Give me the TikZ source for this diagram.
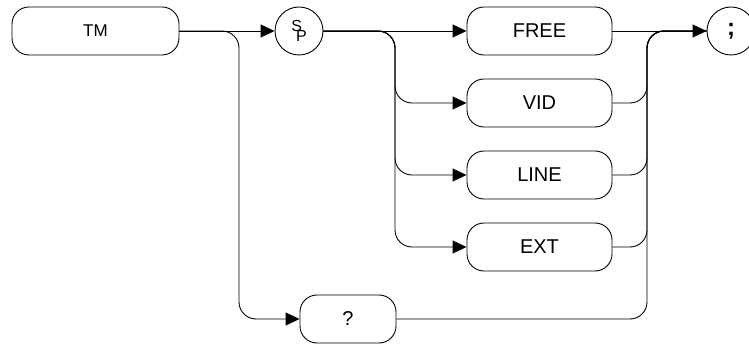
\documentclass[tikz,border=0pt]{standalone}
\usepackage{fontspec}
\setmainfont{Liberation Sans}
\usepackage{tikz}
\usetikzlibrary{arrows.meta, positioning, calc}
\tikzset{
	keyword/.style={draw, rounded corners=17pt, minimum height=48pt, inner sep=0pt,
		line width=0.9pt, font=\fontsize{20}{22}\selectfont},
	token/.style={draw, circle, minimum size=48pt, inner sep=0pt, line width=0.9pt},
	link/.style={draw, line width=0.9pt, rounded corners=17pt},
	arrowlink/.style={link, -{Triangle[length=14pt, width=13pt]}}
}

\begin{document}
\begin{tikzpicture}[x=1pt, y=-1pt]

% frame of the picture
\useasboundingbox (0,0) rectangle (749,344);

% --- LEFT SIDE: command and separator ---
\node[keyword, minimum width=167pt, font=\fontsize{17}{20}\selectfont] (tm) at (95.5,31) {TM};
\node[token] (sp) at (299,31) {\fontsize{16}{18}\selectfont\raisebox{4pt}{S}\kern-6pt\raisebox{-6pt}{P}};

% --- MIDDLE: trigger modes ---
\node[keyword, minimum width=145pt] (free) at (539.5,31) {FREE};
\node[keyword, minimum width=145pt] (vid) at (539.5,103) {VID};
\node[keyword, minimum width=145pt] (line) at (539.5,175) {LINE};
\node[keyword, minimum width=145pt] (ext) at (539.5,247) {EXT};
\node[keyword, minimum width=96pt] (qm) at (348,319) {?};

% --- RIGHT SIDE: terminator ---
\node[token] (semi) at (731,31) {\fontsize{24}{26}\selectfont\bfseries ;};

% split and join points
\coordinate (tmsplit) at (239,31);
\coordinate (spsplit) at (395,31);
\coordinate (join) at (647,31);

% --- CONNECTORS ---
\draw[arrowlink] (tm.east) -- (sp.west);
\draw[arrowlink] (tm.east) -- (tmsplit) |- (qm.west);

\draw[arrowlink] (sp.east) -- (free.west);
\draw[arrowlink] (sp.east) -- (spsplit) |- (vid.west);
\draw[arrowlink] (sp.east) -- (spsplit) |- (line.west);
\draw[arrowlink] (sp.east) -- (spsplit) |- (ext.west);

\draw[arrowlink] (free.east) -- (semi.west);
\draw[link] (vid.east) -| (join) -- (semi.west);
\draw[link] (line.east) -| (join) -- (semi.west);
\draw[link] (ext.east) -| (join) -- (semi.west);
\draw[link] (qm.east) -| (join) -- (semi.west);

\end{tikzpicture}
\end{document}
